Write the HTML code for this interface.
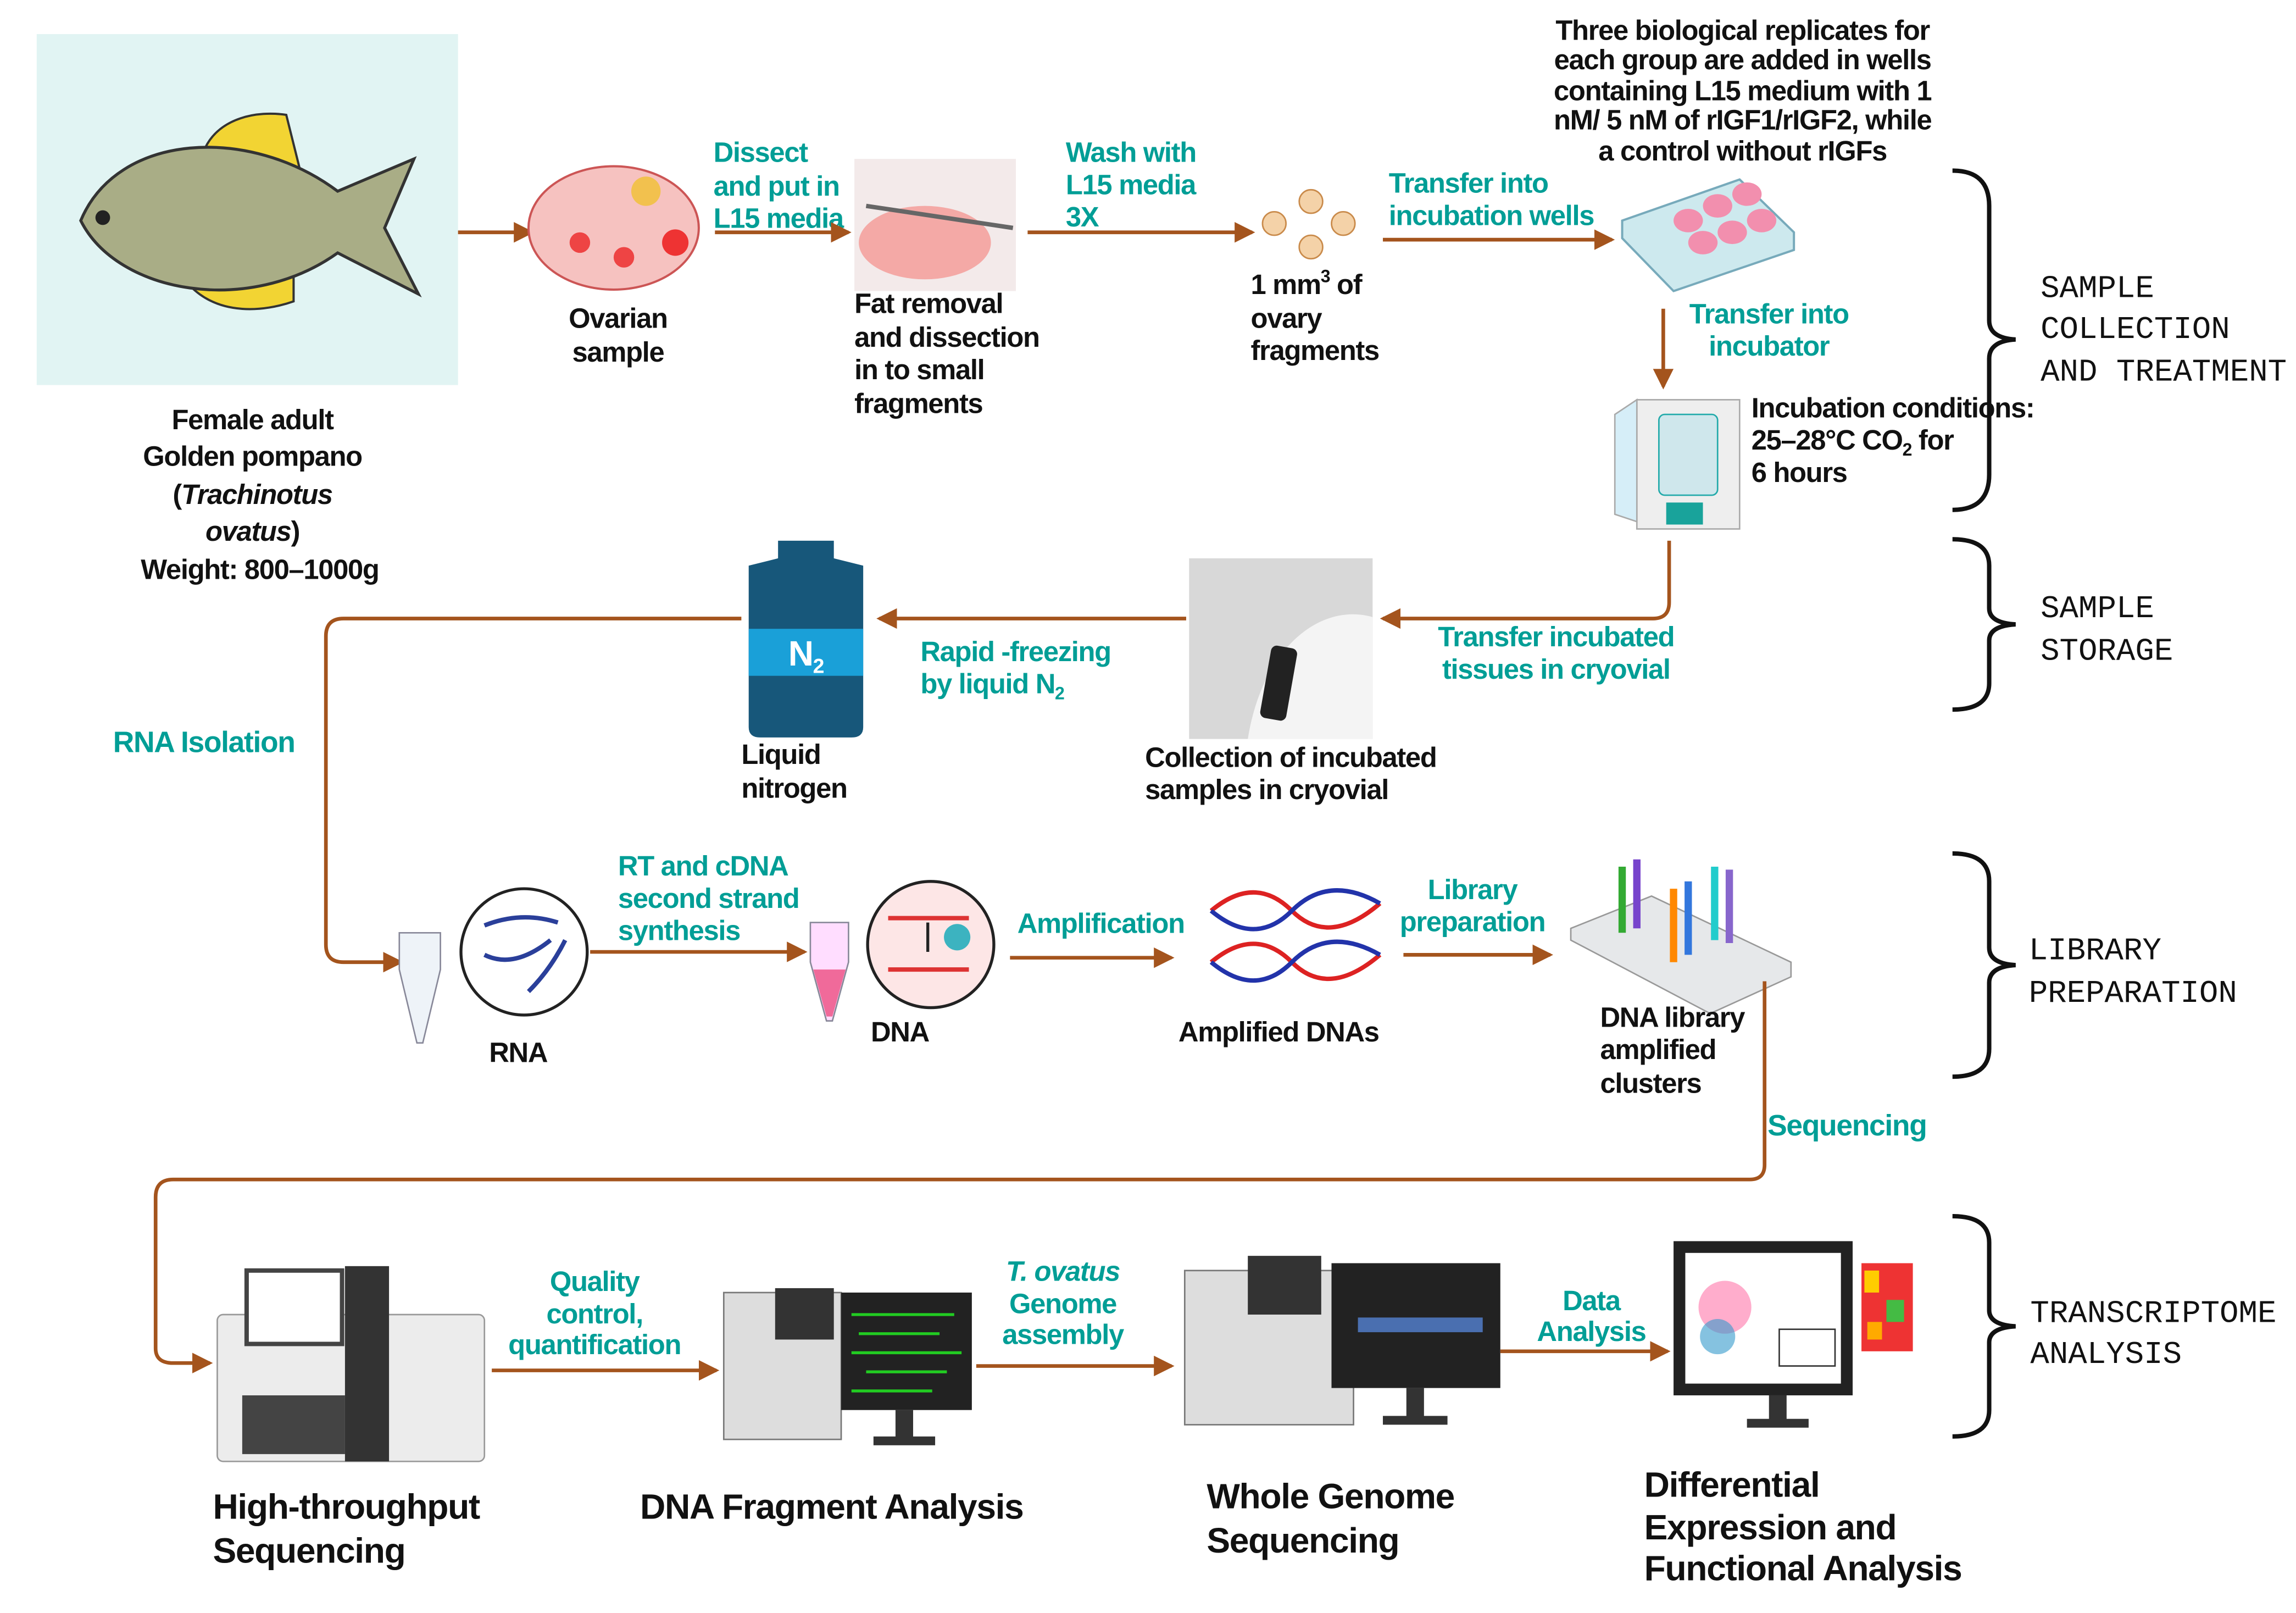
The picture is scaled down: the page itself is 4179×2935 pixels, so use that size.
<!DOCTYPE html>
<html><head><meta charset="utf-8"><style>
html,body{margin:0;padding:0;background:#fff}
svg{display:block}
text{font-family:"Liberation Sans Narrow","Liberation Sans",sans-serif;font-weight:bold;font-size:19px;fill:#111;letter-spacing:-0.5px}
.t{fill:#009e96}
.m{font-family:"Liberation Mono","DejaVu Sans Mono",monospace;font-weight:normal;font-size:21.5px;fill:#111;letter-spacing:0}
.big{font-size:24px}
.ar{stroke:#a4541d;stroke-width:2.5;fill:none}
</style></head><body>
<svg width="4179" height="2935" viewBox="0 0 1564 1098" xmlns="http://www.w3.org/2000/svg">
<defs>
<marker id="b" markerWidth="14" markerHeight="14" refX="12" refY="7" orient="auto" markerUnits="userSpaceOnUse"><path d="M0,0 L14,7 L0,14 z" fill="#a4541d"/></marker></defs>

<!-- fish -->
<rect x="25" y="23" width="287" height="239" fill="#e1f4f3"/>
<path d="M140,100 C150,80 175,75 195,78 L205,118z M130,195 C150,215 180,212 200,205 L200,180z" fill="#f2d433" stroke="#333" stroke-width="1.5"/>
<path d="M55,150 C80,90 170,85 230,130 L282,108 L262,155 L285,200 L230,172 C170,215 80,200 55,150z" fill="#a9ad86" stroke="#333" stroke-width="2"/>
<circle cx="70" cy="148" r="5" fill="#222"/>
<g text-anchor="middle"><text x="172" y="292">Female adult</text><text x="172" y="317">Golden pompano</text><text x="172" y="343">(<tspan font-style="italic">Trachinotus</tspan></text><text x="172" y="368"><tspan font-style="italic">ovatus</tspan>)</text><text x="177" y="394">Weight: 800–1000g</text></g>

<!-- row 1 -->
<line class="ar" x1="312" y1="158" x2="362" y2="158" marker-end="url(#b)"/>
<ellipse cx="418" cy="155" rx="58" ry="42" fill="#f6c2c0" stroke="#c55" stroke-width="1.5"/>
<circle cx="440" cy="130" r="10" fill="#f2c14e"/><circle cx="395" cy="165" r="7" fill="#e44"/><circle cx="425" cy="175" r="7" fill="#e44"/><circle cx="460" cy="165" r="9" fill="#e33"/>
<g text-anchor="middle"><text x="421" y="223">Ovarian</text><text x="421" y="246">sample</text></g>
<text class="t" x="486" y="110">Dissect</text><text class="t" x="486" y="133">and put in</text><text class="t" x="486" y="155">L15 media</text>
<line class="ar" x1="487" y1="158" x2="578" y2="158" marker-end="url(#b)"/>
<rect x="582" y="108" width="110" height="90" fill="#f3eaea"/>
<ellipse cx="630" cy="165" rx="45" ry="25" fill="#f4a9a6"/>
<line x1="590" y1="140" x2="690" y2="155" stroke="#666" stroke-width="3"/>
<text x="582" y="213">Fat removal</text><text x="582" y="236">and  dissection</text><text x="582" y="258">in to small</text><text x="582" y="281">fragments</text>
<text class="t" x="726" y="110">Wash with</text><text class="t" x="726" y="132">L15 media</text><text class="t" x="726" y="154">3X</text>
<line class="ar" x1="700" y1="158" x2="853" y2="158" marker-end="url(#b)"/>
<g fill="#f4d2a8" stroke="#c98a4a"><circle cx="893" cy="137" r="8"/><circle cx="868" cy="152" r="8"/><circle cx="915" cy="152" r="8"/><circle cx="893" cy="168" r="8"/></g>
<text x="852" y="200">1 mm<tspan font-size="12" dy="-8">3</tspan><tspan dy="8"> of</tspan></text><text x="852" y="223">ovary</text><text x="852" y="245">fragments</text>
<text class="t" x="946" y="131">Transfer into</text><text class="t" x="946" y="153">incubation wells</text>
<line class="ar" x1="942" y1="163" x2="1098" y2="163" marker-end="url(#b)"/>
<g text-anchor="middle"><text x="1187" y="27" font-size="17">Three biological replicates for</text><text x="1187" y="47" font-size="17">each group are added  in wells</text><text x="1187" y="68" font-size="17">containing  L15 medium with 1</text><text x="1187" y="88" font-size="17">nM/ 5 nM of rIGF1/rIGF2, while</text><text x="1187" y="109" font-size="17">a control without rIGFs</text></g>
<path d="M1105,150 L1185,122 L1222,158 L1222,170 L1140,198 L1105,162z" fill="#cde9ee" stroke="#7ab" stroke-width="1.5"/>
<g fill="#f28fae"><ellipse cx="1150" cy="150" rx="10" ry="8"/><ellipse cx="1170" cy="140" rx="10" ry="8"/><ellipse cx="1190" cy="132" rx="10" ry="8"/><ellipse cx="1160" cy="165" rx="10" ry="8"/><ellipse cx="1180" cy="158" rx="10" ry="8"/><ellipse cx="1200" cy="150" rx="10" ry="8"/></g>
<line class="ar" x1="1133" y1="210" x2="1133" y2="263" marker-end="url(#b)"/>
<g text-anchor="middle"><text class="t" x="1205" y="220">Transfer into</text><text class="t" x="1205" y="242">incubator</text></g>
<rect x="1115" y="272" width="70" height="88" fill="#eee" stroke="#aaa"/>
<rect x="1130" y="282" width="40" height="55" rx="4" fill="#cfe7ec" stroke="#2aa"/>
<path d="M1100,282 L1115,272 L1115,355 L1100,350z" fill="#d6eef8" stroke="#aaa"/>
<rect x="1135" y="342" width="25" height="15" fill="#19a39b"/>
<text x="1193" y="284">Incubation conditions:</text><text x="1193" y="306">25–28°C CO<tspan font-size="12" dy="4">2</tspan><tspan dy="-4"> for</tspan></text><text x="1193" y="328">6 hours</text>

<!-- row 2 -->
<path class="ar" d="M1137,368 L1137,410 Q1137,421 1126,421 L942,421" marker-end="url(#b)"/>
<g text-anchor="middle"><text class="t" x="1060" y="440">Transfer incubated</text><text class="t" x="1060" y="462">tissues in cryovial</text></g>
<rect x="810" y="380" width="125" height="123" fill="#d8d8d8"/>
<path d="M850,503 C860,440 900,410 935,420 L935,503z" fill="#f4f4f4"/>
<rect x="862" y="440" width="18" height="50" rx="4" fill="#222" transform="rotate(10 871 465)"/>
<text x="780" y="522">Collection of incubated</text><text x="780" y="544">samples in cryovial</text>
<line class="ar" x1="808" y1="421" x2="599" y2="421" marker-end="url(#b)"/>
<text class="t" x="627" y="450">Rapid -freezing</text><text class="t" x="627" y="472">by liquid N<tspan font-size="12" dy="4">2</tspan></text>
<path d="M530,368 L568,368 L568,380 L588,385 L588,495 Q588,502 580,502 L518,502 Q510,502 510,495 L510,385 L530,380z" fill="#17577a"/>
<rect x="510" y="428" width="78" height="32" fill="#1aa0d8"/>
<text x="549" y="453" text-anchor="middle" style="fill:#fff;font-size:24px">N<tspan font-size="14" dy="5">2</tspan></text>
<text x="505" y="520">Liquid</text><text x="505" y="543">nitrogen</text>
<path class="ar" d="M505,421 L234,421 Q222,421 222,433 L222,643 Q222,655 234,655 L273,655" marker-end="url(#b)"/>
<text class="t" x="77" y="512" style="font-size:20px">RNA Isolation</text>

<!-- row 3 -->
<path d="M272,635 L300,635 L300,660 L288,710 L284,710 L272,660z" fill="#eef3f8" stroke="#889"/>
<circle cx="357" cy="648" r="43" fill="#fff" stroke="#222" stroke-width="2"/>
<path d="M330,630 Q355,620 380,628 M330,650 Q350,660 375,640 M360,675 Q375,660 385,640" stroke="#2a3f9a" stroke-width="3" fill="none"/>
<text x="353" y="723" text-anchor="middle">RNA</text>
<text class="t" x="421" y="596">RT and cDNA</text><text class="t" x="421" y="618">second strand</text><text class="t" x="421" y="640">synthesis</text>
<line class="ar" x1="402" y1="648" x2="548" y2="648" marker-end="url(#b)"/>
<path d="M552,628 L578,628 L578,655 L567,695 L563,695 L552,655z" fill="#fdf" stroke="#889"/>
<path d="M554,660 L576,660 L567,692 L563,692z" fill="#f06a9a"/>
<circle cx="634" cy="643" r="43" fill="#fde6e6" stroke="#222" stroke-width="2"/>
<path d="M605,625 L660,625 M605,660 L660,660" stroke="#d33" stroke-width="3"/><line x1="632" y1="628" x2="632" y2="648" stroke="#222" stroke-width="2"/>
<circle cx="652" cy="638" r="9" fill="#3cb3c0"/>
<text x="613" y="709" text-anchor="middle">DNA</text>
<text class="t" x="693" y="635">Amplification</text>
<line class="ar" x1="688" y1="652" x2="798" y2="652" marker-end="url(#b)"/>
<g stroke-width="3" fill="none"><path d="M825,620 Q855,595 880,620 T940,615" stroke="#d22"/><path d="M825,620 Q855,645 880,620 T940,615" stroke="#23a"/><path d="M825,655 Q855,630 880,655 T940,650" stroke="#d22"/><path d="M825,655 Q855,680 880,655 T940,650" stroke="#23a"/></g>
<text x="871" y="709" text-anchor="middle">Amplified DNAs</text>
<g text-anchor="middle"><text class="t" x="1003" y="612">Library</text><text class="t" x="1003" y="634">preparation</text></g>
<line class="ar" x1="956" y1="650" x2="1056" y2="650" marker-end="url(#b)"/>
<path d="M1070,632 L1125,610 L1220,655 L1220,665 L1165,690 L1070,640z" fill="#e6e8ea" stroke="#999"/>
<g stroke-width="5"><line x1="1105" y1="590" x2="1105" y2="635" stroke="#3a3"/><line x1="1115" y1="585" x2="1115" y2="632" stroke="#74c"/><line x1="1140" y1="605" x2="1140" y2="655" stroke="#f80"/><line x1="1150" y1="600" x2="1150" y2="650" stroke="#37d"/><line x1="1168" y1="590" x2="1168" y2="640" stroke="#2cc"/><line x1="1178" y1="592" x2="1178" y2="642" stroke="#86c"/></g>
<text x="1090" y="699">DNA library</text><text x="1090" y="721">amplified</text><text x="1090" y="744">clusters</text>
<path class="ar" d="M1202,668 L1202,793 Q1202,803 1192,803 L118,803 Q106,803 106,815 L106,918 Q106,928 118,928 L143,928" marker-end="url(#b)"/>
<text class="t" x="1204" y="773" style="font-size:20px">Sequencing</text>

<!-- row 4 -->
<rect x="148" y="895" width="182" height="100" rx="4" fill="#ececec" stroke="#999"/>
<rect x="168" y="865" width="65" height="50" fill="#fff" stroke="#444" stroke-width="3"/>
<rect x="235" y="862" width="30" height="133" fill="#333"/>
<rect x="165" y="950" width="70" height="40" fill="#444"/>
<text class="big" x="145" y="1034">High-throughput</text><text class="big" x="145" y="1064">Sequencing</text>
<g text-anchor="middle"><text class="t" x="405" y="879">Quality</text><text class="t" x="405" y="901">control,</text><text class="t" x="405" y="922">quantification</text></g>
<line class="ar" x1="335" y1="933" x2="488" y2="933" marker-end="url(#b)"/>
<rect x="493" y="880" width="80" height="100" fill="#ddd" stroke="#777"/>
<rect x="528" y="877" width="40" height="35" fill="#333"/>
<rect x="573" y="880" width="89" height="80" fill="#222"/>
<g stroke="#2c2" stroke-width="2"><line x1="580" y1="895" x2="650" y2="895"/><line x1="585" y1="908" x2="640" y2="908"/><line x1="580" y1="921" x2="655" y2="921"/><line x1="590" y1="934" x2="645" y2="934"/><line x1="580" y1="947" x2="635" y2="947"/></g>
<rect x="610" y="960" width="12" height="20" fill="#333"/><rect x="595" y="978" width="42" height="6" fill="#333"/>
<text class="big" x="436" y="1034">DNA Fragment Analysis</text>
<g text-anchor="middle"><text class="t" x="724" y="872" font-style="italic">T. ovatus</text><text class="t" x="724" y="894">Genome</text><text class="t" x="724" y="915">assembly</text></g>
<line class="ar" x1="665" y1="930" x2="798" y2="930" marker-end="url(#b)"/>
<rect x="807" y="865" width="115" height="105" fill="#ddd" stroke="#777"/>
<rect x="850" y="855" width="50" height="40" fill="#333"/>
<rect x="907" y="860" width="115" height="85" fill="#222"/>
<rect x="925" y="897" width="85" height="10" fill="#4a6fb0"/>
<rect x="958" y="945" width="12" height="20" fill="#333"/><rect x="942" y="964" width="44" height="6" fill="#333"/>
<text class="big" x="822" y="1027">Whole Genome</text><text class="big" x="822" y="1057">Sequencing</text>
<g text-anchor="middle"><text class="t" x="1084" y="892">Data</text><text class="t" x="1084" y="913">Analysis</text></g>
<line class="ar" x1="1022" y1="920" x2="1136" y2="920" marker-end="url(#b)"/>
<rect x="1140" y="845" width="122" height="105" fill="#222"/><rect x="1148" y="853" width="106" height="89" fill="#fff"/>
<rect x="1205" y="950" width="12" height="18" fill="#333"/><rect x="1190" y="966" width="42" height="6" fill="#333"/>
<circle cx="1175" cy="890" r="18" fill="#f7a" opacity=".6"/><circle cx="1170" cy="910" r="12" fill="#39c" opacity=".6"/>
<rect x="1212" y="905" width="38" height="25" fill="#fff" stroke="#333"/>
<g><rect x="1268" y="860" width="35" height="60" fill="#e33"/><rect x="1270" y="865" width="10" height="15" fill="#fc0"/><rect x="1285" y="885" width="12" height="15" fill="#4b4"/><rect x="1272" y="900" width="10" height="12" fill="#fa0"/></g>
<text class="big" x="1120" y="1019">Differential</text><text class="big" x="1120" y="1048">Expression and</text><text class="big" x="1120" y="1076">Functional Analysis</text>

<!-- braces -->
<g fill="none" stroke="#111" stroke-width="3">
<path d="M1330,116 Q1355,116 1355,140 L1355,218 Q1355,230 1373,231 Q1355,232 1355,244 L1355,323 Q1355,347 1330,347"/>
<path d="M1330,367 Q1355,367 1355,385 L1355,414 Q1355,424 1373,425 Q1355,426 1355,436 L1355,465 Q1355,483 1330,483"/>
<path d="M1330,581 Q1355,581 1355,600 L1355,645 Q1355,656 1373,657 Q1355,658 1355,669 L1355,714 Q1355,733 1330,733"/>
<path d="M1330,828 Q1355,828 1355,846 L1355,892 Q1355,902 1373,903 Q1355,904 1355,914 L1355,960 Q1355,978 1330,978"/>
</g>
<text class="m" x="1390" y="202">SAMPLE</text><text class="m" x="1390" y="230">COLLECTION</text><text class="m" x="1390" y="259">AND TREATMENT</text>
<text class="m" x="1390" y="420">SAMPLE</text><text class="m" x="1390" y="449">STORAGE</text>
<text class="m" x="1382" y="653">LIBRARY</text><text class="m" x="1382" y="682">PREPARATION</text>
<text class="m" x="1383" y="900">TRANSCRIPTOME</text><text class="m" x="1383" y="928">ANALYSIS</text>
</svg>
</body></html>
